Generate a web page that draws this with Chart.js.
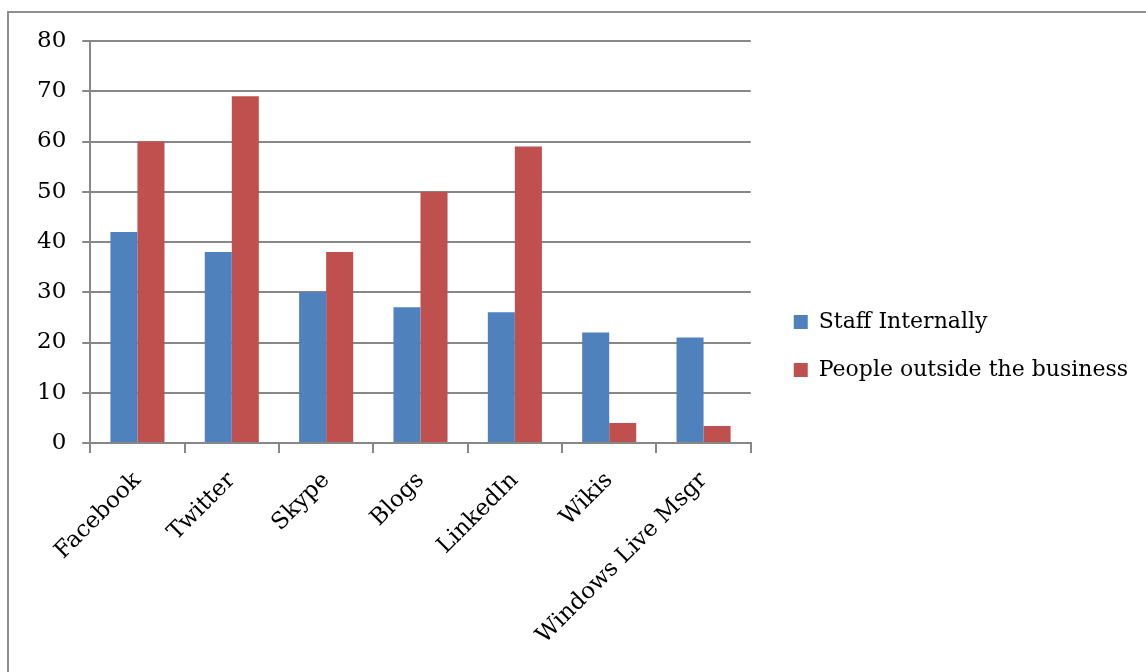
<!DOCTYPE html>
<html>
<head>
<meta charset="utf-8">
<script src="https://cdn.jsdelivr.net/npm/chart.js@4"></script>
<style>
    html, body { margin: 0; padding: 0; background: #fff; }
    #wrap { width: 1146px; height: 672px; position: relative; }
</style>
</head>
<body>
<div id="wrap"><canvas id="chart" width="1146" height="672"></canvas></div>
<script>
    'use strict';

    const categories = ['Facebook', 'Twitter', 'Skype', 'Blogs', 'LinkedIn', 'Wikis', 'Windows Live Msgr'];
    const staffInternally = [42, 38, 30, 27, 26, 22, 21];
    const peopleOutside = [60, 69, 38, 50, 59, 4, 3.4];
    const seriesNames = ['Staff Internally', 'People outside the business'];
    const yTicks = [0, 10, 20, 30, 40, 50, 60, 70, 80];

    const gridGray = '#878787';
    const fontFamily = '"DejaVu Serif", "Liberation Serif", serif';

    // outer chart frame, as in the office-style export
    const framePlugin = {
        id: 'frame',
        beforeDraw(chart) {
            const c = chart.ctx;
            c.save();
            c.fillStyle = '#fff';
            c.fillRect(0, 0, chart.width, chart.height);
            c.strokeStyle = '#8e8e8e';
            c.lineWidth = 2;
            c.strokeRect(8, 12, chart.width + 20, chart.height + 20);
            c.restore();
        }
    };

    new Chart(document.getElementById('chart'), {
        type: 'bar',
        data: {
            labels: categories,
            datasets: [{
                label: seriesNames[0],
                data: staffInternally,
                backgroundColor: '#4F81BD',
                borderWidth: 0
            }, {
                label: seriesNames[1],
                data: peopleOutside,
                backgroundColor: '#C0504D',
                borderWidth: 0
            }]
        },
        options: {
            responsive: false,
            animation: false,
            devicePixelRatio: 1,
            layout: {
                padding: { left: 21, top: 41, right: 8, bottom: 21 }
            },
            datasets: {
                bar: { categoryPercentage: 0.573, barPercentage: 1.0 }
            },
            scales: {
                x: {
                    grid: {
                        offset: true,
                        drawOnChartArea: false,
                        drawTicks: true,
                        tickLength: 10,
                        color: gridGray,
                        lineWidth: 2
                    },
                    border: { color: gridGray, width: 2 },
                    ticks: {
                        color: '#000',
                        font: { family: fontFamily, size: 23 },
                        minRotation: 45,
                        maxRotation: 45,
                        autoSkip: false,
                        padding: 14
                    },
                    afterFit(scale) {
                        scale.height = 208;
                        scale.paddingLeft = 0;
                        scale.paddingRight = 0;
                    }
                },
                y: {
                    min: 0,
                    max: 80,
                    afterBuildTicks(axis) {
                        axis.ticks = yTicks.map(v => ({ value: v }));
                    },
                    grid: {
                        color: gridGray,
                        lineWidth: 2,
                        drawTicks: true,
                        tickLength: 8
                    },
                    border: { color: gridGray, width: 2 },
                    ticks: {
                        color: '#000',
                        font: { family: fontFamily, size: 23 },
                        padding: 16
                    }
                },
                // empty spacer between plot and legend
                gap: {
                    type: 'linear',
                    position: 'right',
                    display: true,
                    grid: { display: false },
                    border: { display: false },
                    ticks: { display: false },
                    afterFit(scale) {
                        scale.width = 17;
                    }
                }
            },
            plugins: {
                legend: {
                    position: 'right',
                    maxWidth: 500,
                    labels: {
                        color: '#000',
                        font: { family: fontFamily, size: 22 },
                        boxWidth: 14,
                        boxHeight: 14,
                        padding: 26
                    }
                },
                tooltip: { enabled: false }
            }
        },
        plugins: [framePlugin]
    });
</script>
</body>
</html>
